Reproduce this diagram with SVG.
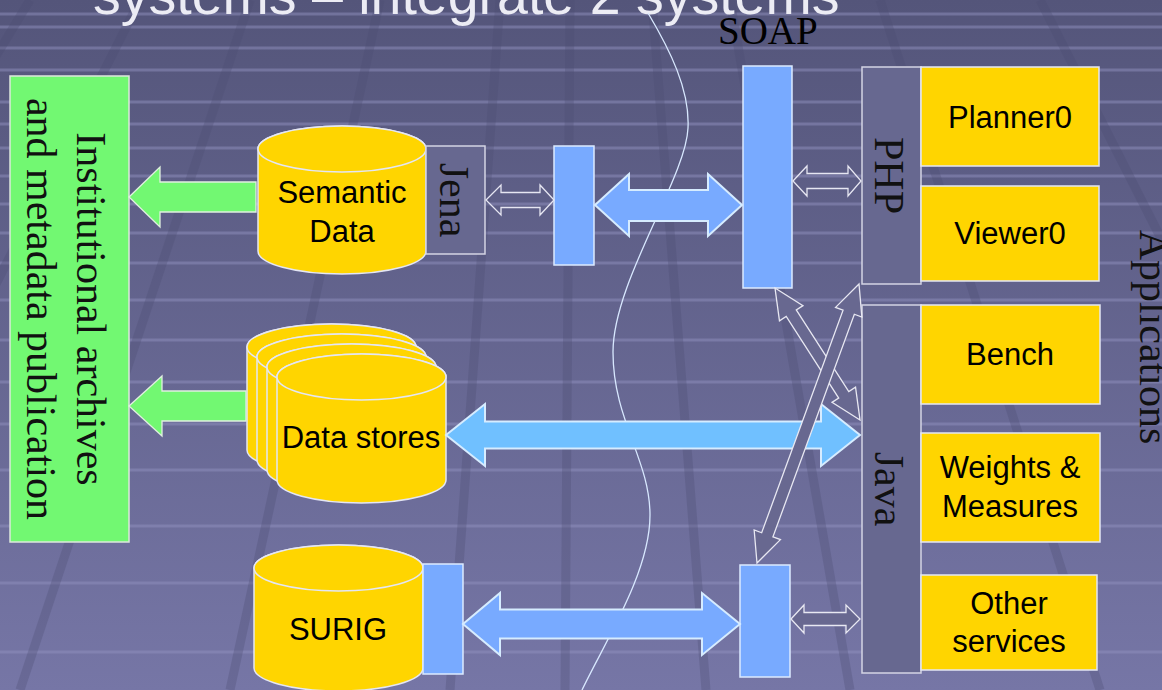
<svg xmlns="http://www.w3.org/2000/svg" width="1162" height="690" viewBox="0 0 1162 690">
<defs>
<linearGradient id="bg" x1="0" y1="0" x2="0" y2="1">
<stop offset="0" stop-color="#54557a"/>
<stop offset="1" stop-color="#7676a6"/>
</linearGradient>
</defs>
<style>
.sans{font-family:"Liberation Sans",Arial,sans-serif}
.serif{font-family:"Liberation Serif","Times New Roman",serif}
.yel{fill:#ffd500;stroke:#e4e6f4;stroke-width:1.5}
.blue{fill:#78aaff;stroke:#dceaff;stroke-width:1.5}
.gray{fill:#676890;stroke:#d4d4e4;stroke-width:1.5}
.green{fill:#72f872;stroke:#dde8dd;stroke-width:1.5}
.lbl{font-family:"Liberation Sans",Arial,sans-serif;font-size:31px;fill:#000;text-anchor:middle}
.vlbl{font-family:"Liberation Serif","Times New Roman",serif;font-size:42px;fill:#111;text-anchor:middle}
.outl{fill:none;stroke:#e6e6f2;stroke-width:1.3}
.darr{fill:#686890;stroke:#e8e8f2;stroke-width:1.3}
.barr{fill:#78aaff;stroke:#d6ecff;stroke-width:2}
.carr{fill:#70c0ff;stroke:#d6ecff;stroke-width:2}
.garr{fill:#72f872;stroke:#e0f0e0;stroke-width:1.3}
.hl{stroke:#9090be;stroke-width:3;opacity:0.5}
.sl{stroke:#4c4d72;stroke-width:9;opacity:0.3}
</style>

<g id="background">
<rect x="0" y="0" width="1162" height="690" fill="url(#bg)"/>
<g>
<line class="hl" x1="0" y1="14" x2="1162" y2="14"/>
<line class="hl" x1="0" y1="27" x2="1162" y2="27"/>
<line class="hl" x1="0" y1="48" x2="1162" y2="48"/>
<line class="hl" x1="0" y1="70" x2="1162" y2="70"/>
<line class="hl" x1="0" y1="102" x2="1162" y2="102"/>
<line class="hl" x1="0" y1="124" x2="1162" y2="124"/>
<line class="hl" x1="0" y1="148" x2="1162" y2="148"/>
<line class="hl" x1="0" y1="176" x2="1162" y2="176"/>
<line class="hl" x1="0" y1="204" x2="1162" y2="204"/>
<line class="hl" x1="0" y1="233" x2="1162" y2="233"/>
<line class="hl" x1="0" y1="263" x2="1162" y2="263"/>
<line class="hl" x1="0" y1="300" x2="1162" y2="300"/>
<line class="hl" x1="0" y1="340" x2="1162" y2="340"/>
<line class="hl" x1="0" y1="382" x2="1162" y2="382"/>
<line class="hl" x1="0" y1="424" x2="1162" y2="424"/>
<line class="hl" x1="0" y1="470" x2="1162" y2="470"/>
<line class="hl" x1="0" y1="526" x2="1162" y2="526"/>
<line class="hl" x1="0" y1="583" x2="1162" y2="583"/>
<line class="hl" x1="0" y1="652" x2="1162" y2="652"/>
</g>
<g>
<line class="sl" x1="30" y1="0" x2="-390" y2="690"/>
<line class="sl" x1="140" y1="0" x2="-210" y2="690"/>
<line class="sl" x1="250" y1="0" x2="20" y2="690"/>
<line class="sl" x1="380" y1="0" x2="230" y2="690"/>
<line class="sl" x1="500" y1="0" x2="450" y2="690"/>
<line class="sl" x1="570" y1="0" x2="565" y2="690"/>
<line class="sl" x1="652" y1="0" x2="706" y2="690"/>
<line class="sl" x1="730" y1="0" x2="850" y2="690"/>
<line class="sl" x1="880" y1="0" x2="1100" y2="690"/>
<line class="sl" x1="1040" y1="0" x2="1390" y2="690"/>
</g>
</g>

<text class="sans" x="93" y="14" font-size="55.5" fill="#ececf4">systems – integrate 2 systems</text>
<text class="serif" x="718" y="44" font-size="39" fill="#000">SOAP</text>

<path id="boundary" d="M648,13 C670,50 690,90 688,128 C686,178 613,282 613,352 C613,420 650,460 650,515 C650,572 606,640 582,690" fill="none" stroke="#d8e8ff" stroke-width="1.3"/>

<g id="archives">
<rect class="green" x="10" y="76" width="119" height="466"/>
<text class="vlbl" transform="translate(77,309) rotate(90)">Institutional archives</text>
<text class="vlbl" transform="translate(27,309) rotate(90)">and metadata publication</text>
</g>

<g id="semantic-data">
<path class="yel" d="M258,149 L258,251 A84,23 0 0 0 426,251 L426,149 A84,23 0 0 0 258,149 Z"/>
<ellipse class="yel" cx="342" cy="149" rx="84" ry="23"/>
<text class="lbl" x="342" y="203">Semantic</text>
<text class="lbl" x="342" y="242">Data</text>
</g>

<g id="jena">
<rect class="gray" x="426" y="146" width="59" height="108"/>
<text class="vlbl" transform="translate(440,200) rotate(90)">Jena</text>
</g>

<g id="data-stores">
<path class="yel" d="M247,347 L247,450 A84.5,23 0 0 0 416,450 L416,347 A84.5,23 0 0 0 247,347 Z"/>
<ellipse class="yel" cx="331.5" cy="347" rx="84.5" ry="23"/>
<path class="yel" d="M257,357 L257,460 A84.5,23 0 0 0 426,460 L426,357 A84.5,23 0 0 0 257,357 Z"/>
<ellipse class="yel" cx="341.5" cy="357" rx="84.5" ry="23"/>
<path class="yel" d="M267,367 L267,470 A84.5,23 0 0 0 436,470 L436,367 A84.5,23 0 0 0 267,367 Z"/>
<ellipse class="yel" cx="351.5" cy="367" rx="84.5" ry="23"/>
<path class="yel" d="M277,377 L277,480 A84.5,23 0 0 0 446,480 L446,377 A84.5,23 0 0 0 277,377 Z"/>
<ellipse class="yel" cx="361.5" cy="377" rx="84.5" ry="23"/>
<text class="lbl" x="361" y="448">Data stores</text>
</g>

<g id="surig">
<path class="yel" d="M254,568 L254,668 A84.5,23 0 0 0 423,668 L423,568 A84.5,23 0 0 0 254,568 Z"/>
<ellipse class="yel" cx="338.5" cy="568" rx="84.5" ry="23"/>
<text class="lbl" x="338" y="640">SURIG</text>
</g>

<g id="surig-adapter">
<rect class="blue" x="423" y="564" width="40" height="110"/>
</g>

<g id="jena-adapter">
<rect class="blue" x="554" y="146" width="40" height="119"/>
</g>

<g id="soap">
<rect class="blue" x="743" y="66" width="49" height="222"/>
</g>

<g id="java-adapter">
<rect class="blue" x="740" y="565" width="50" height="112"/>
</g>

<g id="php">
<rect class="gray" x="862" y="67" width="59" height="217"/>
<text class="vlbl" transform="translate(875,175.5) rotate(90)">PHP</text>
</g>

<g id="java">
<rect class="gray" x="862" y="305" width="59" height="368"/>
<text class="vlbl" transform="translate(875,489) rotate(90)">Java</text>
</g>

<g id="planner0">
<rect class="yel" x="921" y="67" width="178" height="99"/>
<text class="lbl" x="1010" y="128">Planner0</text>
</g>

<g id="viewer0">
<rect class="yel" x="921" y="186" width="178" height="95"/>
<text class="lbl" x="1010" y="244">Viewer0</text>
</g>

<g id="bench">
<rect class="yel" x="921" y="305" width="179" height="99"/>
<text class="lbl" x="1010" y="365">Bench</text>
</g>

<g id="weights">
<rect class="yel" x="921" y="433" width="179" height="109"/>
<text class="lbl" x="1010" y="478">Weights &amp;</text>
<text class="lbl" x="1010" y="517">Measures</text>
</g>

<g id="other">
<rect class="yel" x="921" y="575" width="176" height="95"/>
<text class="lbl" x="1009" y="614">Other</text>
<text class="lbl" x="1009" y="652">services</text>
</g>

<g id="applications">
<text class="vlbl" transform="translate(1140,337) rotate(90)">Applications</text>
</g>

<g id="connectors">
<polygon class="garr" points="129,197 160,167 160,182 256,182 256,212 160,212 160,227"/>
<polygon class="garr" points="129,406 162,376 162,391 246,391 246,421 162,421 162,436"/>
<polygon class="outl" points="486,200 501,185 501,192.5 540,192.5 540,185 554,200 540,215 540,207.5 501,207.5 501,215"/>
<polygon class="barr" points="595,205 629,174 629,190 708,190 708,174 742,205 708,236 708,221 629,221 629,236"/>
<polygon class="outl" points="793,181 807,166 807,173.5 848,173.5 848,166 861,181 848,196 848,188.5 807,188.5 807,196"/>
<polygon class="carr" points="446,435 485,404 485,421.5 821,421.5 821,404 860,435 821,466 821,448.5 485,448.5 485,466"/>
<polygon class="barr" points="463,624 500,593 500,609.5 702,609.5 702,593 740,624 702,655 702,638.5 500,638.5 500,655"/>
<polygon class="darr" points="791,619 804,605 804,612.5 846,612.5 846,605 860,619 846,633 846,625.5 804,625.5 804,633"/>
<polygon class="darr" points="775,288 803.01,305.64 796.28,309.97 848.80,391.53 855.53,387.20 860,420 831.99,402.36 838.72,398.03 786.20,316.47 779.47,320.80"/>
<polygon class="darr" points="757,563 754.15,530.01 761.66,532.76 843.06,310.12 835.55,307.37 859,284 861.85,316.99 854.34,314.24 772.94,536.88 780.45,539.63"/>
</g>
</svg>
